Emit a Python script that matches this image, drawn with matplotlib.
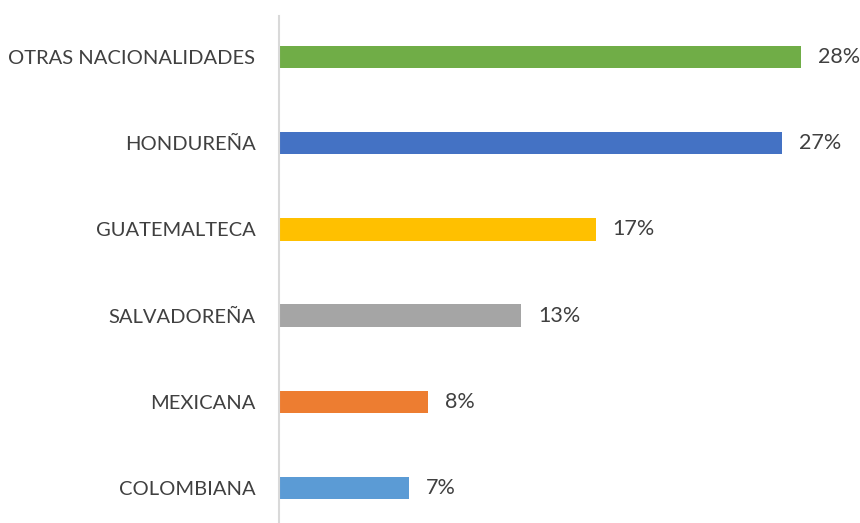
import matplotlib.pyplot as plt

categories = ["COLOMBIANA", "MEXICANA", "SALVADOREÑA", "GUATEMALTECA", "HONDUREÑA", "OTRAS NACIONALIDADES"]
values = [7, 8, 13, 17, 27, 28]
colors = ["#5b9bd5", "#ed7d31", "#a5a5a5", "#ffc000", "#4472c4", "#70ad47"]

plt.rcParams['font.family'] = ['Lato', 'DejaVu Sans']
text_color = "#404040"

fig = plt.figure(figsize=(8.6, 5.23), dpi=100)
ax = fig.add_axes([279 / 860, 0, 1 - 279 / 860, 1])

y = list(range(len(categories)))
ax.barh(y, values, height=0.26, color=colors)

for yi, v in zip(y, values):
    ax.annotate(f"{v}%", xy=(v, yi), xytext=(12, 0), textcoords="offset points",
                va="center", ha="left", fontsize=15.5, color=text_color)

ax.set_xlim(0, 581 / 18.64)
ax.set_ylim(-35 / 86.2, 5 + 57 / 86.2)
ax.set_yticks(y)
ax.set_yticklabels(categories, fontsize=14.5, color=text_color)
ax.tick_params(axis="y", length=0, pad=17)
ax.set_xticks([])

for s in ["top", "right", "bottom"]:
    ax.spines[s].set_visible(False)
ax.spines["left"].set_color("#d9d9d9")
ax.spines["left"].set_linewidth(1.5)
ax.spines["left"].set_bounds(-0.5, 5 + 41 / 86.2)

fig.savefig("out.png", dpi=100)
